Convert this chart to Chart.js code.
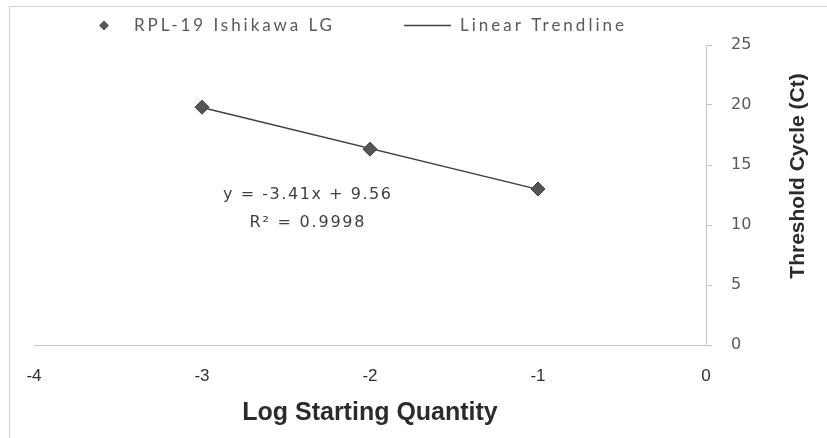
<!DOCTYPE html>
<html>
<head>
<meta charset="utf-8">
<script src="https://cdn.jsdelivr.net/npm/chart.js@4/dist/chart.umd.min.js"></script>
<style>
  html, body { margin: 0; padding: 0; background: #ffffff; overflow: hidden; }
  #wrap { width: 827px; height: 438px; }
</style>
</head>
<body>
<div id="wrap"><canvas id="c" width="827" height="438"></canvas></div>
<script>
// Standard curve: log starting quantity vs. threshold cycle
const logQuantity = [-3, -2, -1];
const thresholdCycle = [19.82, 16.32, 13.00];
const xTickValues = [-4, -3, -2, -1, 0];
const yTickValues = [0, 5, 10, 15, 20, 25];

// Fitted line as reported on the chart
const trendSlope = -3.41;
const trendIntercept = 9.56;
const rSquared = 0.9998;

const seriesName = 'RPL-19 Ishikawa LG';
const trendName = 'Linear Trendline';
const xAxisTitle = 'Log Starting Quantity';
const yAxisTitle = 'Threshold Cycle (Ct)';

const pointData = logQuantity.map((x, i) => ({ x: x, y: thresholdCycle[i] }));
const xFirst = Math.min(...logQuantity);
const xLast = Math.max(...logQuantity);
const trendData = [xFirst, xLast].map(x => ({ x: x, y: trendSlope * x + trendIntercept }));

const AXIS_COLOR = '#c4c4c4';
const LEGEND_FONT = 'Lato, "Open Sans", sans-serif';
const NOTE_FONT = '"DejaVu Sans", Verdana, sans-serif';

// draw text spread out so that it spans a given width
function spacedText(ctx, text, x, y, width, align) {
  ctx.letterSpacing = '0px';
  const w = ctx.measureText(text).width;
  const gap = Math.max(0, (width - w) / (text.length - 1));
  ctx.letterSpacing = gap + 'px';
  const left = align === 'center' ? x - width / 2 : x;
  ctx.textAlign = 'left';
  ctx.fillText(text, left, y);
  ctx.letterSpacing = '0px';
}

const decorPlugin = {
  id: 'decor',
  afterDraw(chart) {
    const ctx = chart.ctx;
    const xs = chart.scales.x;
    const ys = chart.scales.y;
    ctx.save();

    // outer frame (left and top edges)
    ctx.strokeStyle = '#d2d2d2';
    ctx.lineWidth = 1;
    ctx.beginPath();
    ctx.moveTo(9.5, 460);
    ctx.lineTo(9.5, 6.5);
    ctx.lineTo(900, 6.5);
    ctx.stroke();

    // legend
    const ly = 25.5;
    ctx.fillStyle = '#555555';
    ctx.beginPath();
    ctx.moveTo(104, ly - 5);
    ctx.lineTo(109, ly);
    ctx.lineTo(104, ly + 5);
    ctx.lineTo(99, ly);
    ctx.closePath();
    ctx.fill();
    ctx.font = '17px ' + LEGEND_FONT;
    ctx.fillStyle = '#595959';
    ctx.textBaseline = 'middle';
    spacedText(ctx, seriesName, 134, ly, 198, 'left');
    ctx.strokeStyle = '#404040';
    ctx.lineWidth = 1.5;
    ctx.beginPath();
    ctx.moveTo(404, ly);
    ctx.lineTo(451, ly);
    ctx.stroke();
    spacedText(ctx, trendName, 460, ly, 164, 'left');

    // trendline equation
    const ex = xs.getPixelForValue(-2.375);
    ctx.font = '16px ' + NOTE_FONT;
    ctx.fillStyle = '#404040';
    spacedText(ctx, 'y = ' + trendSlope.toFixed(2) + 'x + ' + trendIntercept.toFixed(2), ex, ys.getPixelForValue(12.5), 168, 'center');
    spacedText(ctx, 'R\u00B2 = ' + rSquared.toFixed(4), ex, ys.getPixelForValue(10.17), 115, 'center');

    // right-hand axis title, reading bottom to top
    ctx.font = 'bold 21px "Liberation Sans", Arial, sans-serif';
    ctx.fillStyle = '#2b2b2b';
    ctx.translate(798, 176);
    ctx.rotate(-Math.PI / 2);
    ctx.textAlign = 'center';
    ctx.textBaseline = 'middle';
    ctx.fillText(yAxisTitle, 0, 0);
    ctx.restore();
  }
};

new Chart(document.getElementById('c'), {
  type: 'scatter',
  data: {
    datasets: [
      {
        label: seriesName,
        data: pointData,
        pointStyle: 'rectRot',
        pointRadius: 7,
        pointHoverRadius: 7,
        backgroundColor: '#555555',
        borderColor: '#3d3d3d',
        borderWidth: 1,
        order: 1
      },
      {
        type: 'line',
        label: trendName,
        data: trendData,
        borderColor: '#3f3f3f',
        borderWidth: 1.5,
        pointRadius: 0,
        fill: false,
        tension: 0,
        order: 2
      }
    ]
  },
  options: {
    responsive: false,
    devicePixelRatio: 1,
    animation: false,
    layout: { padding: { left: 34, top: 45, right: 0, bottom: 0 } },
    plugins: {
      legend: { display: false },
      tooltip: { enabled: false }
    },
    scales: {
      x: {
        type: 'linear',
        position: 'bottom',
        min: -4,
        max: 0,
        afterBuildTicks: s => { s.ticks = xTickValues.map(v => ({ value: v })); },
        afterFit: s => { s.height = 93; },
        grid: { drawOnChartArea: false, drawTicks: false },
        border: { color: AXIS_COLOR, width: 1 },
        ticks: {
          padding: 21,
          color: '#2e2e2e',
          font: { family: '"Liberation Sans", Arial, sans-serif', size: 17 },
          callback: v => String(v)
        },
        title: {
          display: true,
          text: xAxisTitle,
          color: '#2b2b2b',
          font: { family: '"Liberation Sans", Arial, sans-serif', size: 25, weight: 'bold' },
          padding: { top: 0, bottom: 10 }
        }
      },
      y: {
        type: 'linear',
        position: 'right',
        min: 0,
        max: 25,
        afterBuildTicks: s => { s.ticks = yTickValues.map(v => ({ value: v })); },
        afterFit: s => { s.width = 121; },
        grid: { drawOnChartArea: false, drawTicks: true, tickLength: 6, color: AXIS_COLOR },
        border: { color: AXIS_COLOR, width: 1 },
        ticks: {
          padding: 19,
          color: '#595959',
          font: { family: '"DejaVu Sans", Verdana, sans-serif', size: 16 },
          callback: v => String(v)
        }
      }
    }
  },
  plugins: [decorPlugin]
});
</script>
</body>
</html>
